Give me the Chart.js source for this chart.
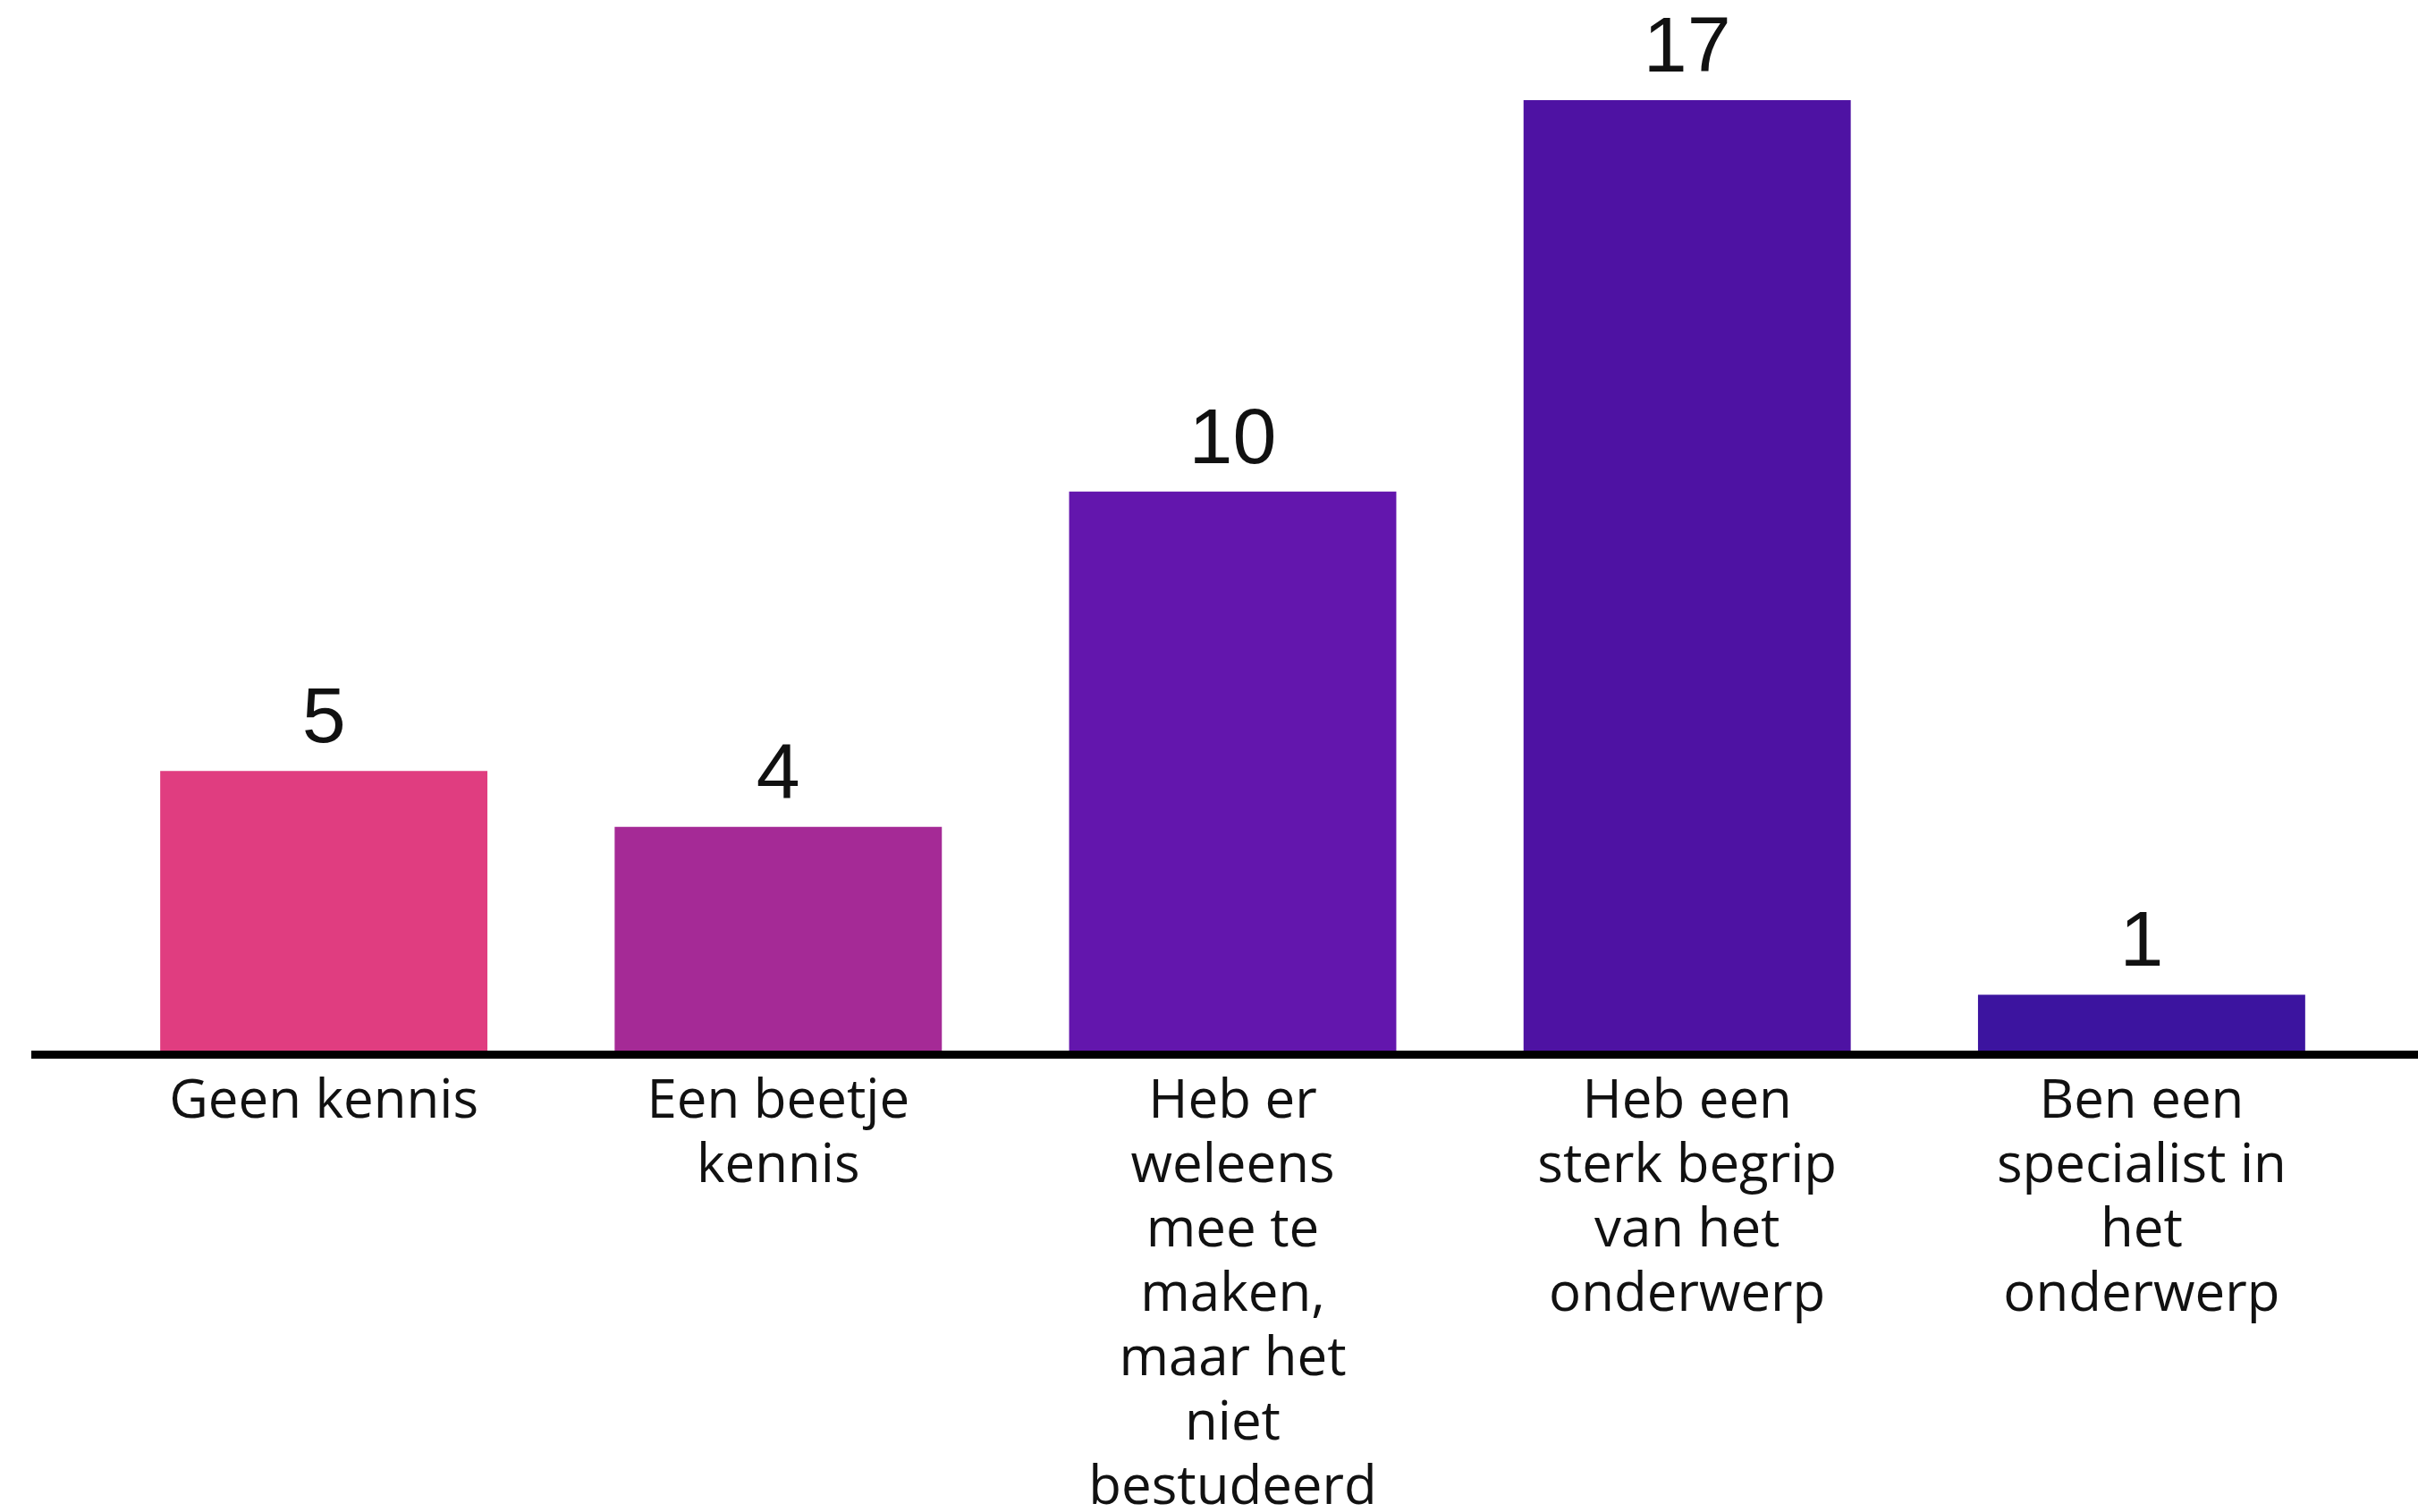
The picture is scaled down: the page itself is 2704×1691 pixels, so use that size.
<!DOCTYPE html>
<html lang="nl">
<head>
    <meta charset="UTF-8">
    <title>Kennis van het onderwerp</title>
    <script src="https://cdn.jsdelivr.net/npm/chart.js"></script>
    <style>
        html, body {
            margin: 0;
            padding: 0;
            background-color: #fff;
            overflow: hidden;
        }
        .chart-container {
            width: 2704px;
            height: 1715px;
        }
    </style>
</head>
<body>
    <div class="chart-container">
        <canvas id="barChart"></canvas>
    </div>

    <script>
        // Categories (already split in lines like the original)
        const categories = [
            ['Geen kennis'],
            ['Een beetje', 'kennis'],
            ['Heb er', 'weleens', 'mee te', 'maken,', 'maar het', 'niet', 'bestudeerd'],
            ['Heb een', 'sterk begrip', 'van het', 'onderwerp'],
            ['Ben een', 'specialist in', 'het', 'onderwerp']
        ];
        const counts = [5, 4, 10, 17, 1];
        const barColors = ['#e03d80', '#a52a96', '#6316ad', '#4e12a3', '#3c149f'];

        // Value labels above the bars
        const valueLabels = {
            id: 'valueLabels',
            afterDatasetsDraw(chart) {
                const ctx = chart.ctx;
                const meta = chart.getDatasetMeta(0);
                ctx.save();
                ctx.fillStyle = '#111';
                ctx.font = '88px "Liberation Sans", Arial, sans-serif';
                ctx.textAlign = 'center';
                ctx.textBaseline = 'alphabetic';
                meta.data.forEach((bar, i) => {
                    ctx.fillText(String(counts[i]), bar.x, bar.y - 32);
                });
                ctx.restore();
            }
        };

        // Thick baseline running across the whole page
        const baseLine = {
            id: 'baseLine',
            afterDatasetsDraw(chart) {
                const ctx = chart.ctx;
                const y = chart.scales.y.getPixelForValue(0);
                ctx.save();
                ctx.strokeStyle = '#000';
                ctx.lineWidth = 9;
                ctx.beginPath();
                ctx.moveTo(35, y + 4.5);
                ctx.lineTo(chart.width, y + 4.5);
                ctx.stroke();
                ctx.restore();
            }
        };

        const ctxBar = document.getElementById('barChart').getContext('2d');
        new Chart(ctxBar, {
            type: 'bar',
            data: {
                labels: categories,
                datasets: [{
                    data: counts,
                    backgroundColor: barColors,
                    borderWidth: 0,
                    categoryPercentage: 1.0,
                    barPercentage: 0.72
                }]
            },
            options: {
                responsive: true,
                maintainAspectRatio: false,
                animation: false,
                layout: {
                    padding: { left: 108, right: 55, top: 0, bottom: 0 }
                },
                scales: {
                    y: {
                        display: false,
                        min: 0,
                        max: 18.79
                    },
                    x: {
                        grid: { display: false },
                        border: { display: false },
                        ticks: {
                            color: '#111',
                            padding: 14,
                            maxRotation: 0,
                            autoSkip: false,
                            font: {
                                family: '"Open Sans", Lato, sans-serif',
                                size: 60,
                                lineHeight: 1.2
                            }
                        }
                    }
                },
                plugins: {
                    legend: { display: false },
                    tooltip: { enabled: false }
                }
            },
            plugins: [valueLabels, baseLine]
        });
    </script>
</body>
</html>
